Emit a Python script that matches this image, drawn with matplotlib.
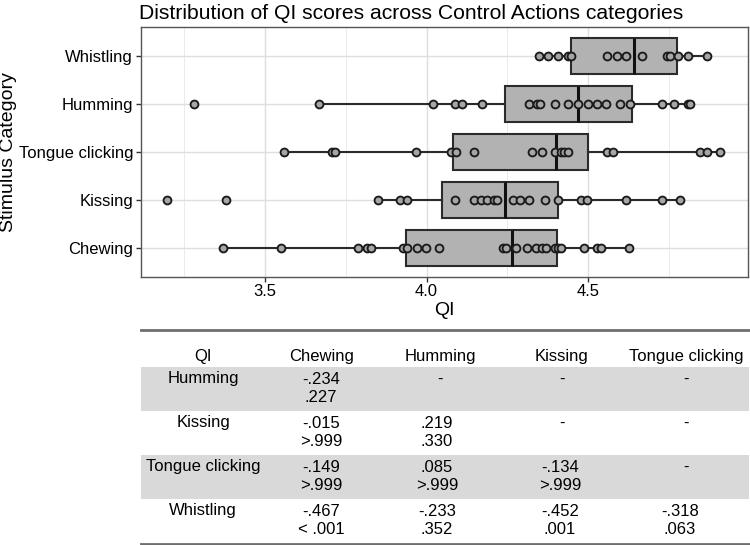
import matplotlib
matplotlib.use("Agg")
import matplotlib.pyplot as plt
from matplotlib.patches import Rectangle
import numpy as np

plt.rcParams['font.family'] = ['Liberation Sans', 'DejaVu Sans']

# ---------------- data ----------------
categories = ["Chewing", "Kissing", "Tongue clicking", "Humming", "Whistling"]

# box statistics (whisker low, Q1, median, Q3, whisker high)
whis_lo = [3.369, 3.850, 3.559, 3.668, 4.348]
q1      = [3.936, 4.049, 4.082, 4.242, 4.448]
median  = [4.263, 4.244, 4.400, 4.467, 4.642]
q3      = [4.402, 4.407, 4.498, 4.635, 4.773]
whis_hi = [4.627, 4.785, 4.906, 4.814, 4.866]

chewing_pts = [3.369, 3.549, 3.789, 3.816, 3.828, 3.928, 3.938, 3.969, 3.998, 4.038,
               4.237, 4.247, 4.278, 4.309, 4.338, 4.356, 4.369, 4.397, 4.407, 4.417,
               4.486, 4.528, 4.538, 4.627]
kissing_pts = [3.198, 3.379, 3.850, 3.917, 3.938, 4.087, 4.147, 4.167, 4.186, 4.207,
               4.217, 4.266, 4.289, 4.317, 4.366, 4.407, 4.476, 4.497, 4.618, 4.727,
               4.785]
tongue_pts = [3.559, 3.709, 3.717, 3.968, 4.077, 4.090, 4.147, 4.327, 4.357, 4.397,
              4.415, 4.426, 4.436, 4.557, 4.577, 4.845, 4.868, 4.906]
humming_pts = [3.280, 3.668, 4.019, 4.087, 4.109, 4.170, 4.317, 4.341, 4.350, 4.397,
               4.436, 4.467, 4.498, 4.527, 4.556, 4.598, 4.630, 4.727, 4.766, 4.807,
               4.814]
whistling_pts = [4.348, 4.376, 4.405, 4.436, 4.448, 4.557, 4.588, 4.618, 4.667, 4.745,
                 4.752, 4.778, 4.807, 4.866]
points = [chewing_pts, kissing_pts, tongue_pts, humming_pts, whistling_pts]

x_ticks = [3.5, 4.0, 4.5]
x_tick_labels = ["3.5", "4.0", "4.5"]
x_minor = [3.25, 3.75, 4.25, 4.75]

# table
table_cols = ["QI", "Chewing", "Humming", "Kissing", "Tongue clicking"]
table_rows = ["Humming", "Kissing", "Tongue clicking", "Whistling"]
table_r = [["-.234", None, None, None],
           ["-.015", ".219", None, None],
           ["-.149", ".085", "-.134", None],
           ["-.467", "-.233", "-.452", "-.318"]]
table_p = [[".227", None, None, None],
           [">.999", ".330", None, None],
           [">.999", ">.999", ">.999", None],
           ["< .001", ".352", ".001", ".063"]]

# ---------------- figure ----------------
W, H = 750, 545
fig = plt.figure(figsize=(W / 100, H / 100), dpi=100)

L, R, T, B = 140.7, 747.7, 27.3, 276.7
ax = fig.add_axes([L / W, 1 - B / H, (R - L) / W, (B - T) / H])

pos = np.arange(1, len(categories) + 1)
stats = []
for i, c in enumerate(categories):
    stats.append(dict(label=c, whislo=whis_lo[i], q1=q1[i], med=median[i],
                      q3=q3[i], whishi=whis_hi[i], fliers=[]))

edge = "#2b2b2b"
ax.bxp(stats, positions=pos, vert=False, widths=0.75, patch_artist=True,
       showfliers=False, showcaps=False,
       boxprops=dict(facecolor="#b2b2b2", edgecolor=edge, linewidth=1.5),
       whiskerprops=dict(color=edge, linewidth=1.5),
       medianprops=dict(color="#111111", linewidth=2.2),
       zorder=3)

for i, pts in enumerate(points):
    ax.scatter(pts, np.full(len(pts), pos[i]), s=32, facecolor="#a6a6a6",
               edgecolor="#1a1a1a", linewidth=1.35, zorder=4)

ax.set_xlim(3.116, 4.993)
ax.set_ylim(0.4, 5.6)
ax.set_xticks(x_ticks)
ax.set_xticklabels(x_tick_labels)
ax.set_xticks(x_minor, minor=True)
ax.set_yticks(pos)
ax.set_yticklabels(categories)
ax.grid(True, which="major", color="#dedede", linewidth=1.0, zorder=0)
ax.grid(True, which="minor", axis="x", color="#ebebeb", linewidth=0.7, zorder=0)
ax.set_axisbelow(True)
ax.tick_params(axis="both", which="major", length=3.5, width=1.0, color="#333333",
               labelsize=12, labelcolor="black", pad=2)
ax.tick_params(axis="x", which="minor", length=0)
for s in ax.spines.values():
    s.set_color("#555555")
    s.set_linewidth(1.0)

ax.set_xlabel("QI", fontsize=14, labelpad=2)
ax.set_ylabel("Stimulus Category", fontsize=14)
ax.yaxis.set_label_coords(17 / W, 1 - 152 / H, transform=fig.transFigure)

fig.text(139 / W, 1 - 19 / H,
         "Distribution of QI scores across Control Actions categories",
         fontsize=15.2, ha="left", va="baseline")

# ---------------- table ----------------
tax = fig.add_axes([0, 0, 1, 1])
tax.set_xlim(0, W)
tax.set_ylim(H, 0)
tax.axis("off")

tl, tr = 141, 749
col_x = [203, 322, 440, 562, 686]
val_x = [203, 321, 437, 560, 680]
header_y = 357
row_top = [367, 411, 455, 499]
row_h = 44

tax.plot([tl, tr], [330, 330], color="#6e6e6e", linewidth=2.0)
tax.plot([tl, tr], [544, 544], color="#6e6e6e", linewidth=2.0)

for j, name in enumerate(table_cols):
    tax.text(col_x[j], header_y, name, fontsize=12, ha="center", va="center")

for i, rname in enumerate(table_rows):
    if i % 2 == 0:
        tax.add_patch(Rectangle((tl, row_top[i]), tr - tl, row_h,
                                facecolor="#d9d9d9", edgecolor="none", zorder=0))
    y1 = row_top[i] + 12
    y2 = row_top[i] + 31
    tax.text(col_x[0], y1, rname, fontsize=12, ha="center", va="center")
    for j in range(4):
        r = table_r[i][j]
        p = table_p[i][j]
        if r is None:
            tax.text(col_x[j + 1], y1, "-", fontsize=12, ha="center", va="center")
        else:
            tax.text(val_x[j + 1], y1, r, fontsize=12, ha="center", va="center")
            tax.text(val_x[j + 1], y2, p, fontsize=12, ha="center", va="center")

fig.savefig("out.png", dpi=100)
